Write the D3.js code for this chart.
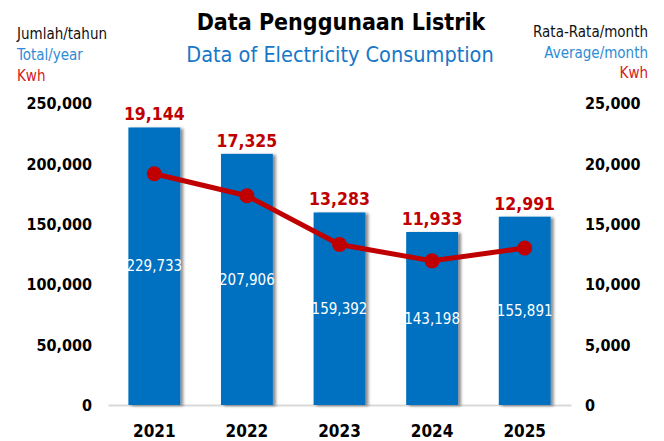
<!DOCTYPE html>
<html>
<head>
<meta charset="utf-8">
<script src="https://cdn.jsdelivr.net/npm/d3@7"></script>
<style>
  html, body { margin: 0; padding: 0; background: #fff; }
  svg { display: block; font-family: "DejaVu Sans Condensed", "DejaVu Sans", sans-serif; }
</style>
</head>
<body>
<div id="chart"></div>
<script>
// ── Data ─────────────────────────────────────────────────────
const years   = ['2021', '2022', '2023', '2024', '2025'];
const totals  = [229733, 207906, 159392, 143198, 155891];   // kWh per year
const monthly = [19144, 17325, 13283, 11933, 12991];        // kWh per month (avg)
const leftTicks  = [0, 50000, 100000, 150000, 200000, 250000];
const rightTicks = [0, 5000, 10000, 15000, 20000, 25000];

const W = 664, H = 441;
const BLUE = '#0070c0', RED = '#c00000';
const fmt = d3.format(',');

const svg = d3.select('#chart').append('svg')
  .attr('width', W).attr('height', H);

// shadow filter for bars
const defs = svg.append('defs');
const f = defs.append('filter').attr('id', 'shadow')
  .attr('x', '-20%').attr('y', '-5%').attr('width', '150%').attr('height', '110%');
f.append('feGaussianBlur').attr('in', 'SourceAlpha').attr('stdDeviation', 1.5);
f.append('feOffset').attr('dx', 3).attr('dy', 1).attr('result', 'blur');
f.append('feComponentTransfer').append('feFuncA').attr('type', 'linear').attr('slope', 0.45);
const fm = f.append('feMerge');
fm.append('feMergeNode');
fm.append('feMergeNode').attr('in', 'SourceGraphic');

// ── Scales ───────────────────────────────────────────────────
const x = d3.scaleBand().domain(years).range([108, 571]).paddingInner(0.44).paddingOuter(0.22);
const yL = d3.scaleLinear().domain([0, 250000]).range([405, 103]);
const yR = d3.scaleLinear().domain([0, 25000]).range([405, 103]);

// ── Axes ─────────────────────────────────────────────────────
const axL = svg.append('g').attr('transform', 'translate(92,0)')
  .call(d3.axisLeft(yL).tickValues(leftTicks).tickSize(0).tickPadding(0).tickFormat(fmt));
const axR = svg.append('g').attr('transform', 'translate(585,0)')
  .call(d3.axisRight(yR).tickValues(rightTicks).tickSize(0).tickPadding(0).tickFormat(fmt));
[axL, axR].forEach(a => {
  a.select('.domain').remove();
  a.selectAll('text')
    .attr('font-family', '"DejaVu Sans Condensed", sans-serif')
    .attr('font-size', 16).attr('font-weight', 'bold').attr('fill', '#000')
    .attr('dy', '0.36em');
});

svg.append('g').attr('transform', 'translate(0,405)')
  .call(d3.axisBottom(x).tickSize(0).tickPadding(20))
  .call(g => g.select('.domain').attr('stroke', '#d9d9d9').attr('stroke-width', 2))
  .selectAll('text')
  .attr('font-family', '"DejaVu Sans Condensed", sans-serif')
  .attr('font-size', 17).attr('font-weight', 'bold').attr('fill', '#000');

// ── Bars ─────────────────────────────────────────────────────
svg.append('g').selectAll('rect')
  .data(years)
  .join('rect')
  .attr('x', d => x(d))
  .attr('y', (d, i) => yL(totals[i]))
  .attr('width', x.bandwidth())
  .attr('height', (d, i) => yL(0) - yL(totals[i]))
  .attr('fill', BLUE)
  .attr('filter', 'url(#shadow)');

svg.append('g').selectAll('text')
  .data(years)
  .join('text')
  .attr('x', d => x(d) + x.bandwidth() / 2)
  .attr('y', (d, i) => (yL(totals[i]) + yL(0)) / 2)
  .attr('dy', '0.35em')
  .attr('text-anchor', 'middle')
  .attr('font-family', '"DejaVu Sans Condensed", sans-serif')
  .attr('font-size', 15)
  .attr('fill', '#fff')
  .text((d, i) => fmt(totals[i]));

// ── Line ─────────────────────────────────────────────────────
const cx = d => x(d) + x.bandwidth() / 2;
const line = d3.line().x(d => cx(d)).y((d, i) => yR(monthly[i]));
svg.append('path')
  .datum(years)
  .attr('d', line)
  .attr('fill', 'none')
  .attr('stroke', RED)
  .attr('stroke-width', 5)
  .attr('stroke-linejoin', 'round');

svg.append('g').selectAll('circle')
  .data(years)
  .join('circle')
  .attr('cx', cx)
  .attr('cy', (d, i) => yR(monthly[i]))
  .attr('r', 7.5)
  .attr('fill', RED);

// monthly labels sit just above each bar
svg.append('g').selectAll('text')
  .data(years)
  .join('text')
  .attr('x', cx)
  .attr('y', (d, i) => yL(totals[i]) - 7)
  .attr('text-anchor', 'middle')
  .attr('font-family', '"DejaVu Sans Condensed", sans-serif')
  .attr('font-size', 17.5)
  .attr('font-weight', 'bold')
  .attr('fill', RED)
  .text((d, i) => fmt(monthly[i]));

// ── Titles ───────────────────────────────────────────────────
svg.append('text')
  .attr('x', 341).attr('y', 30).attr('text-anchor', 'middle')
  .attr('font-size', 23).attr('font-weight', 'bold').attr('fill', '#000')
  .text('Data Penggunaan Listrik');
svg.append('text')
  .attr('x', 340).attr('y', 62).attr('text-anchor', 'middle')
  .attr('font-size', 21.5).attr('fill', '#1677c8')
  .text('Data of Electricity Consumption');

const leftLbl = [['Jumlah/tahun', '#111'], ['Total/year', '#2e8bd6'], ['Kwh', '#d42020']];
const rightLbl = [['Rata-Rata/month', '#111'], ['Average/month', '#2e8bd6'], ['Kwh', '#d42020']];
leftLbl.forEach(([t, c], i) => {
  svg.append('text').attr('x', 17).attr('y', 39 + i * 21)
    .attr('font-size', 15).attr('fill', c).text(t);
});
rightLbl.forEach(([t, c], i) => {
  svg.append('text').attr('x', 648).attr('y', 37 + i * 20.5).attr('text-anchor', 'end')
    .attr('font-size', 15).attr('fill', c).text(t);
});
</script>
</body>
</html>
